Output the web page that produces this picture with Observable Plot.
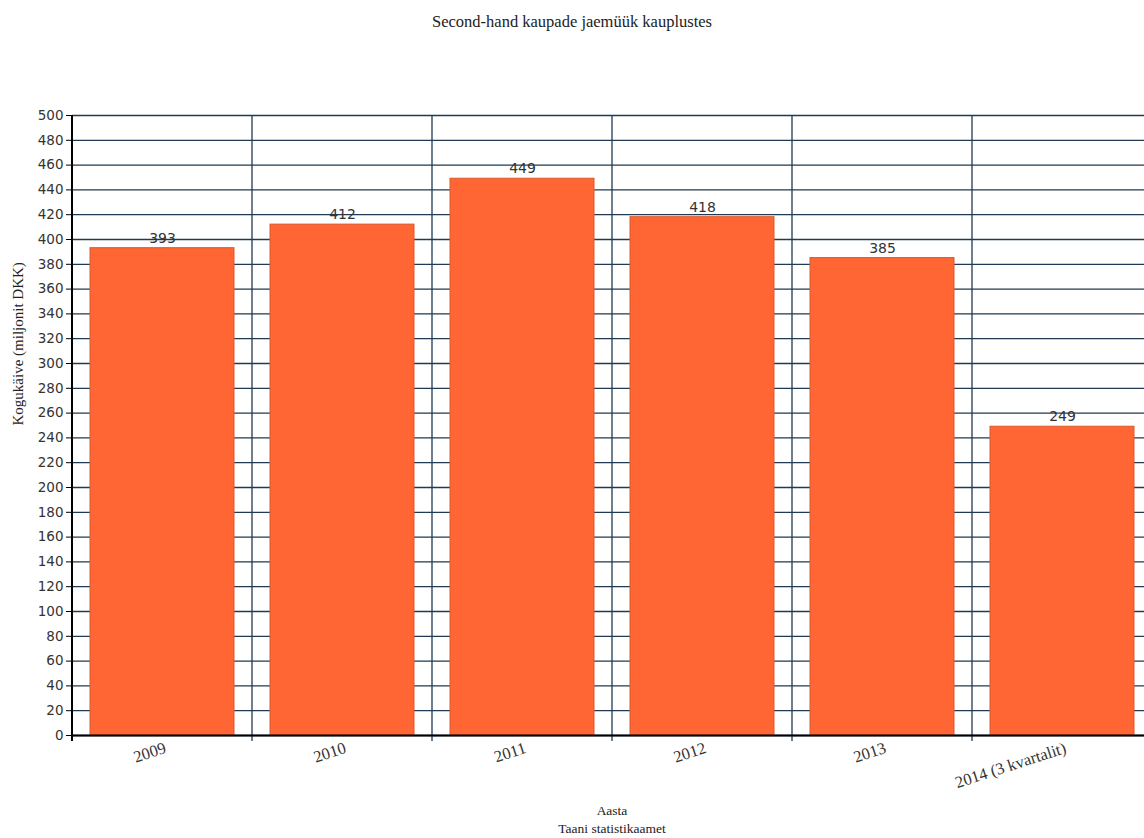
<!DOCTYPE html>
<html>
<head>
<meta charset="utf-8">
<script src="https://cdn.jsdelivr.net/npm/d3@7"></script>
<script src="https://cdn.jsdelivr.net/npm/@observablehq/plot@0.6"></script>
<style>
html, body { margin: 0; padding: 0; background: white; overflow: hidden; width: 1144px; }
#title { font-family: "Liberation Serif", serif; font-size: 16.5px; line-height: 20px; text-align: center; padding-top: 12px; height: 28px; color: #222; }
#chart svg { max-width: none; overflow: visible; display: block; }
.below { width: 1080px; margin-left: 72px; text-align: center; font-family: "Liberation Serif", serif; font-size: 13.5px; line-height: 18px; color: #222; }
</style>
</head>
<body>
<div id="title">Second-hand kaupade jaemüük kauplustes</div>
<div id="chart"></div>
<div class="below" id="xlabel">Aasta</div>
<div class="below" id="caption">Taani statistikaamet</div>
<script>
const categories = ["2009", "2010", "2011", "2012", "2013", "2014 (3 kvartalit)"];
const values = [393, 412, 449, 418, 385, 249];
const yTicks = d3.range(0, 501, 20);
const yLabel = "Kogukäive (miljonit DKK)";

const data = categories.map((c, i) => ({category: c, value: values[i]}));

const gridColor = "#1f3a52";

function bandEdges(index, scales, vals, dims, context) {
  const x = scales.x, y = scales.y;
  const bw = typeof x.bandwidth === "function" ? x.bandwidth() : scales.scales.x.bandwidth;
  const st = typeof x.step === "function" ? x.step() : scales.scales.x.step;
  const off = (st - bw) / 2;
  const edges = categories.map(c => x(c) - off);
  edges.push(x(categories[categories.length - 1]) + bw + off);
  const y0 = y(0), y1 = y(500);
  const g = d3.create("svg:g");
  edges.forEach((ex, i) => {
    g.append("line")
      .attr("x1", ex).attr("x2", ex)
      .attr("y1", y1).attr("y2", y0 + 6)
      .attr("stroke", i === 0 ? "#000" : gridColor)
      .attr("stroke-width", i === 0 ? 2 : 1.3);
  });
  return g.node();
}

const chart = Plot.plot({
  width: 1144,
  height: 762,
  marginTop: 75,
  marginBottom: 67,
  marginLeft: 72,
  marginRight: 0,
  style: {background: "white", overflow: "visible"},
  x: {domain: categories, range: [72, 1152], paddingInner: 0.2, paddingOuter: 0.1, label: null},
  y: {domain: [0, 500], label: null},
  marks: [
    Plot.gridY(yTicks, {stroke: gridColor, strokeOpacity: 1, strokeWidth: 1.3}),
    bandEdges,
    Plot.barY(data, {x: "category", y: "value", fill: "#ff6633", stroke: "#d9582c", strokeWidth: 1}),
    Plot.text(data, {x: "category", y: "value", text: d => String(d.value), dy: -10, fontSize: 14, fontFamily: "DejaVu Sans", fill: "#333"}),
    Plot.ruleY([0], {stroke: "#000", strokeWidth: 2}),
    Plot.axisY(yTicks, {tickSize: 6, tickPadding: 3, fontSize: 13.5, fontFamily: "DejaVu Sans", fill: "#333", label: null, tickFormat: d => String(d)}),
    Plot.axisX({tickSize: 0, tickPadding: 12, tickRotate: -18, dx: 3, fontSize: 16.5, fontFamily: "Liberation Serif", fill: "#333", label: null}),
    Plot.text([yLabel], {frameAnchor: "left", text: d => d, rotate: -90, dx: -54, fontSize: 15, fontFamily: "Liberation Serif", fill: "#222"})
  ]
});
document.getElementById("chart").appendChild(chart);
</script>
</body>
</html>
